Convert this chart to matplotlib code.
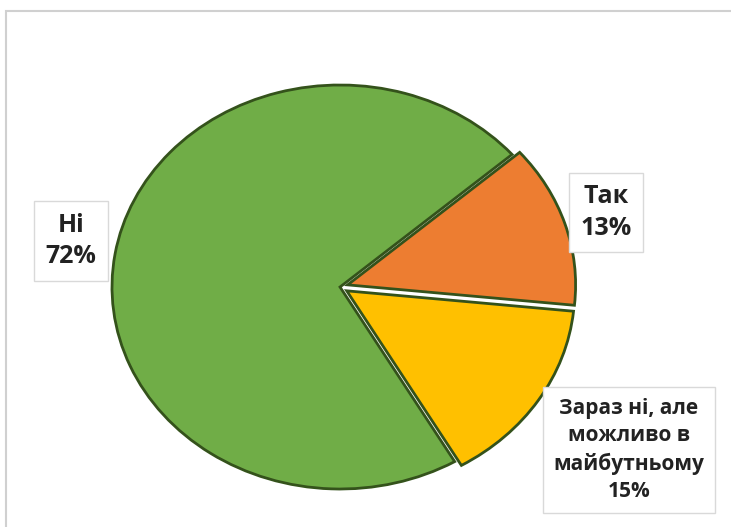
import matplotlib.pyplot as plt
from matplotlib.patches import Rectangle

# data
labels = ['Так', 'Зараз ні, але\nможливо в\nмайбутньому', 'Ні']
shares = [13, 15, 72]
colours = ['#ED7D31', '#FFC000', '#70AD47']
explode = [0.035, 0.035, 0.0]

# label box centres (data units of the pie axes)
label_pos = [(1.167, 0.37), (1.267, -0.807), (-1.18, 0.228)]
label_size = [18, 15, 18]
label_space = [1.35, 1.4, 1.35]
label_pad = [0.45, 0.5, 0.45]

plt.rcParams['font.family'] = ['Open Sans', 'DejaVu Sans']

fig = plt.figure(figsize=(7.31, 5.27), dpi=100)
fig.patches.append(Rectangle((6 / 731, -0.05), 1.0, 1 - 11 / 527 + 0.05,
                             transform=fig.transFigure, fill=False,
                             edgecolor='#D0D0D0', lw=1.5))

ax = fig.add_axes([112 / 731, 38 / 527, 456 / 731, 404 / 527])
wedges, _ = ax.pie(shares, colors=colours, explode=explode, startangle=41,
                   counterclock=False,
                   wedgeprops=dict(edgecolor='#34521B', linewidth=2.0))
ax.set_aspect('auto')
ax.set_xlim(-1, 1)
ax.set_ylim(-1, 1)
ax.axis('off')

for lab, val, (x, y), fs, ls, pd in zip(labels, shares, label_pos, label_size,
                                        label_space, label_pad):
    ax.text(x, y, f'{lab}\n{val}%', ha='center', va='center', fontsize=fs,
            fontweight='bold', color='#222222', linespacing=ls, clip_on=False,
            bbox=dict(boxstyle=f'square,pad={pd}', facecolor='white',
                      edgecolor='#D9D9D9', lw=1.0))

fig.savefig('out.png', dpi=100)
